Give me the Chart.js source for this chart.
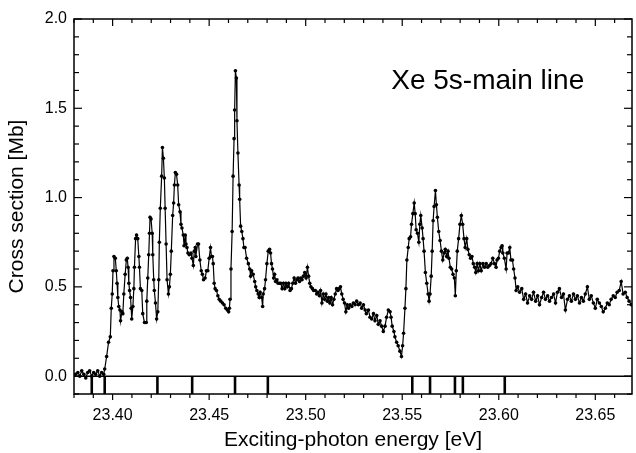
<!DOCTYPE html>
<html><head><meta charset="utf-8">
<script src="https://cdn.jsdelivr.net/npm/chart.js@4"></script>
<style>html,body{margin:0;padding:0;background:#fff}</style>
</head><body>
<canvas id="c" width="636" height="453" style="display:block;width:636px;height:453px"></canvas>
<script>
// Exciting-photon energy [eV]
const energy = [
23.3809,23.3820,23.3830,23.3840,23.3851,23.3861,23.3871,23.3881,23.3892,23.3902,23.3912,23.3923,23.3933,23.3943,23.3954,
23.3959,23.3969,23.3979,23.3988,23.3993,23.3998,23.4002,23.4007,23.4014,23.4019,23.4023,23.4027,23.4032,23.4038,23.4041,
23.4048,23.4053,23.4058,23.4065,23.4071,23.4076,23.4080,23.4084,23.4088,23.4093,23.4096,23.4099,23.4105,23.4110,23.4113,
23.4119,23.4124,23.4130,23.4136,23.4139,23.4144,23.4151,23.4156,23.4165,23.4174,23.4177,23.4182,23.4187,23.4191,23.4194,
23.4199,23.4205,23.4208,23.4213,23.4216,23.4222,23.4228,23.4234,23.4239,23.4242,23.4247,23.4254,23.4258,23.4263,23.4268,
23.4272,23.4277,23.4282,23.4289,23.4294,23.4299,23.4304,23.4311,23.4316,23.4320,23.4325,23.4331,23.4337,23.4342,23.4349,
23.4354,23.4359,23.4366,23.4370,23.4376,23.4380,23.4385,23.4390,23.4397,23.4406,23.4411,23.4418,23.4423,23.4428,23.4431,
23.4440,23.4445,23.4452,23.4459,23.4465,23.4471,23.4479,23.4486,23.4493,23.4500,23.4507,23.4512,23.4517,23.4521,23.4526,
23.4531,23.4538,23.4545,23.4552,23.4560,23.4569,23.4577,23.4586,23.4594,23.4601,23.4605,
23.4608,23.4613,23.4619,23.4624,23.4629,23.4632,23.4636,23.4641,23.4644,23.4649,23.4655,23.4658,23.4663,23.4669,23.4675,
23.4680,23.4686,23.4694,23.4703,23.4710,23.4715,23.4720,23.4728,23.4736,23.4741,23.4747,23.4754,23.4759,23.4764,23.4772,
23.4777,23.4780,23.4787,23.4792,23.4799,23.4806,23.4813,23.4818,23.4823,23.4828,23.4834,23.4839,23.4844,23.4851,23.4857,
23.4864,23.4871,23.4878,23.4885,23.4892,23.4898,23.4906,23.4912,23.4919,23.4926,23.4933,23.4940,23.4947,23.4954,23.4960,
23.4968,23.4974,23.4981,23.4988,23.4995,23.5002,23.5009,23.5015,23.5021,23.5027,23.5035,23.5041,23.5050,23.5057,23.5063,
23.5071,23.5077,23.5084,23.5091,23.5098,23.5105,23.5112,23.5119,23.5125,23.5132,23.5139,23.5146,23.5153,23.5160,23.5167,
23.5174,23.5180,23.5187,23.5194,23.5201,23.5208,23.5215,23.5222,23.5230,
23.5239,23.5247,23.5256,23.5264,23.5273,23.5282,23.5290,23.5299,23.5308,23.5314,23.5325,23.5333,23.5342,23.5351,23.5359,
23.5368,23.5376,23.5385,23.5393,23.5402,23.5411,23.5419,23.5428,23.5437,23.5442,23.5448,23.5457,23.5462,23.5471,23.5479,
23.5488,23.5496,23.5502,23.5507,23.5514,23.5519,23.5524,23.5531,23.5536,23.5543,23.5548,23.5555,23.5562,23.5567,23.5572,
23.5579,23.5586,23.5591,23.5596,23.5603,23.5608,23.5613,23.5620,23.5627,23.5634,23.5639,23.5644,23.5650,23.5655,23.5660,
23.5665,23.5672,23.5677,23.5682,23.5689,23.5696,23.5703,23.5710,23.5717,23.5723,23.5730,23.5737,23.5742,23.5749,23.5756,
23.5763,23.5770,23.5775,23.5780,23.5785,23.5792,23.5799,23.5806,23.5813,23.5820,23.5826,23.5834,23.5840,23.5847,23.5854,
23.5861,23.5868,23.5875,23.5881,23.5888,23.5895,23.5902,23.5909,23.5918,23.5926,23.5935,23.5943,
23.5952,23.5960,23.5969,23.5978,23.5986,23.5991,23.5998,23.6005,23.6012,23.6017,23.6021,23.6029,23.6038,23.6043,23.6050,
23.6057,23.6063,23.6071,23.6077,23.6084,23.6090,
23.6098,23.6108,23.6119,23.6129,23.6139,23.6149,23.6160,23.6170,23.6180,23.6191,23.6201,23.6211,23.6222,23.6232,23.6242,
23.6253,23.6263,23.6273,23.6284,23.6294,23.6304,23.6314,23.6325,23.6335,23.6345,23.6356,23.6366,23.6376,23.6387,23.6397,
23.6407,23.6418,23.6428,23.6438,23.6448,23.6459,23.6469,23.6479,23.6490,23.6500,23.6510,23.6521,23.6531,23.6541,23.6552,
23.6562,23.6572,23.6582,23.6593,23.6603,23.6613,23.6624,23.6634,23.6644,23.6655,23.6665,23.6675,23.6686
];
// Cross section [Mb]
const crossSection = [
0.01,0.02,0.00,0.03,0.01,-0.01,0.02,0.03,0.00,0.02,0.01,0.03,0.00,0.02,0.01,
0.04,0.11,0.19,0.22,0.38,0.46,0.59,0.67,0.66,0.59,0.52,0.44,0.39,0.37,0.31,
0.36,0.35,0.46,0.57,0.65,0.66,0.61,0.52,0.48,0.44,0.38,0.32,0.39,0.49,0.61,
0.77,0.79,0.77,0.67,0.61,0.49,0.48,0.35,0.30,0.30,0.42,0.55,0.68,0.80,0.89,
0.88,0.80,0.68,0.54,0.48,0.41,0.32,0.36,0.54,0.75,0.94,1.12,1.28,1.22,1.11,
0.94,0.74,0.54,0.46,0.50,0.57,0.70,0.90,0.97,1.07,1.14,1.13,1.07,0.96,0.92,
0.85,0.83,0.79,0.73,0.79,0.74,0.72,0.69,0.68,0.69,0.66,0.62,0.70,0.72,0.67,
0.74,0.74,0.65,0.59,0.57,0.54,0.55,0.59,0.59,0.66,0.72,0.67,0.67,0.63,0.52,
0.49,0.48,0.45,0.43,0.42,0.41,0.40,0.38,0.37,0.36,0.38,
0.43,0.60,0.81,1.12,1.33,1.49,1.71,1.67,1.43,1.25,1.07,0.99,0.84,0.81,0.77,
0.72,0.72,0.66,0.63,0.60,0.56,0.59,0.57,0.53,0.50,0.48,0.46,0.44,0.47,0.44,
0.39,0.46,0.49,0.54,0.63,0.70,0.71,0.69,0.63,0.60,0.55,0.57,0.53,0.54,0.52,
0.52,0.52,0.49,0.52,0.49,0.52,0.50,0.52,0.48,0.49,0.52,0.55,0.52,0.54,0.55,
0.53,0.55,0.54,0.56,0.58,0.55,0.61,0.56,0.52,0.50,0.49,0.48,0.48,0.46,0.47,
0.45,0.48,0.41,0.46,0.43,0.46,0.42,0.44,0.41,0.44,0.40,0.43,0.46,0.49,0.48,
0.49,0.50,0.46,0.43,0.41,0.36,0.40,0.38,0.40,
0.39,0.41,0.40,0.42,0.40,0.41,0.38,0.40,0.37,0.35,0.37,0.33,0.32,0.35,0.31,
0.34,0.29,0.31,0.28,0.25,0.28,0.33,0.37,0.36,0.33,0.28,0.25,0.22,0.19,0.17,
0.14,0.11,0.17,0.24,0.38,0.49,0.65,0.72,0.77,0.78,0.85,0.91,0.97,0.91,0.82,
0.80,0.75,0.85,0.90,0.83,0.77,0.70,0.58,0.52,0.46,0.42,0.46,0.56,0.70,0.87,
0.95,1.04,0.96,0.89,0.81,0.76,0.70,0.65,0.69,0.71,0.67,0.70,0.66,0.61,0.60,
0.57,0.55,0.45,0.59,0.70,0.77,0.85,0.90,0.85,0.77,0.72,0.77,0.71,0.68,0.66,
0.67,0.63,0.61,0.58,0.63,0.59,0.63,0.59,0.63,0.61,0.63,0.61,
0.62,0.63,0.66,0.63,0.61,0.65,0.66,0.70,0.72,0.73,0.69,0.66,0.60,0.69,0.69,
0.72,0.65,0.65,0.60,0.55,0.48,
0.50,0.47,0.49,0.43,0.46,0.41,0.45,0.43,0.47,0.42,0.45,0.40,0.44,0.47,0.43,
0.45,0.42,0.44,0.46,0.41,0.47,0.49,0.44,0.46,0.37,0.43,0.45,0.42,0.46,0.43,
0.45,0.41,0.44,0.42,0.46,0.50,0.43,0.45,0.41,0.38,0.43,0.41,0.39,0.36,0.38,
0.41,0.40,0.43,0.45,0.44,0.47,0.48,0.53,0.46,0.47,0.44,0.42,0.40
];
// Resonance positions marked below the zero line [eV]
const resonanceMarks = [23.3892, 23.3959, 23.4232, 23.4412, 23.4634, 23.4804, 23.5552, 23.5644, 23.5773, 23.5814, 23.6031];
const xTickValues = [23.40, 23.45, 23.50, 23.55, 23.60, 23.65];
const yTickValues = [0.0, 0.5, 1.0, 1.5, 2.0];
const annotationText = 'Xe 5s-main line';
const annotationAt = [23.5443, 1.65];

const FONT = '"Liberation Sans", Arial, Helvetica, sans-serif';

const decorPlugin = {
  id: 'decor',
  afterDatasetsDraw(chart) {
    const {ctx, chartArea: a, scales: {x, y}} = chart;
    const line = (x1, y1, x2, y2) => { ctx.beginPath(); ctx.moveTo(x1, y1); ctx.lineTo(x2, y2); ctx.stroke(); };
    ctx.save();
    ctx.strokeStyle = '#000';
    const y0 = y.getPixelForValue(0);
    ctx.lineWidth = 1.5;
    line(a.left, y0, a.right, y0);
    ctx.lineWidth = 2.6;
    resonanceMarks.forEach(e => { const px = x.getPixelForValue(e); line(px, y0, px, a.bottom); });
    ctx.lineWidth = 1.5;
    ctx.strokeRect(a.left, a.top, a.right - a.left, a.bottom - a.top);
    ctx.lineWidth = 1.2;
    for (let k = 0; ; k++) {
      const v = 23.38 + k * 0.01;
      if (v > x.max + 1e-9) break;
      const px = x.getPixelForValue(v);
      const major = Math.abs(v * 20 - Math.round(v * 20)) < 1e-6;
      line(px, a.bottom, px, a.bottom + (major ? 6 : 4));
      line(px, a.top, px, a.top + (major ? 7 : 4));
    }
    for (let k = 0; ; k++) {
      const v = -0.1 + k * 0.1;
      if (v > y.max + 1e-9) break;
      const py = y.getPixelForValue(v);
      const major = Math.abs(v * 2 - Math.round(v * 2)) < 1e-6;
      line(a.left, py, a.left + (major ? 8 : 5), py);
      line(a.right, py, a.right - (major ? 8 : 5), py);
    }
    ctx.fillStyle = '#000';
    ctx.font = '28px ' + FONT;
    ctx.textAlign = 'left';
    ctx.textBaseline = 'middle';
    ctx.fillText(annotationText, x.getPixelForValue(annotationAt[0]), y.getPixelForValue(annotationAt[1]));
    ctx.restore();
  }
};

new Chart(document.getElementById('c'), {
  type: 'line',
  data: {
    datasets: [{
      data: energy.map((e, i) => ({x: e, y: crossSection[i]})),
      borderColor: '#000',
      backgroundColor: '#000',
      borderWidth: 1.2,
      pointRadius: 1.8,
      pointStyle: 'circle',
      pointBorderWidth: 0,
      tension: 0,
      fill: false
    }]
  },
  options: {
    responsive: false,
    animation: false,
    devicePixelRatio: 1,
    layout: {padding: {top: 19, right: 1, left: 0, bottom: 0}},
    plugins: {legend: {display: false}, tooltip: {enabled: false}},
    scales: {
      x: {
        type: 'linear', min: 23.38, max: 23.669,
        grid: {display: false, drawTicks: false},
        border: {display: false},
        afterBuildTicks: s => { s.ticks = xTickValues.map(v => ({value: v})); },
        afterFit: s => { s.height = 59; },
        ticks: {autoSkip: false, maxRotation: 0, padding: 12, color: '#000',
          font: {family: FONT, size: 16}, callback: v => Number(v).toFixed(2)},
        title: {display: true, text: 'Exciting-photon energy [eV]', color: '#000',
          font: {family: FONT, size: 21}, padding: {top: 0, bottom: 0}}
      },
      y: {
        type: 'linear', min: -0.1, max: 2.0,
        grid: {display: false, drawTicks: false},
        border: {display: false},
        afterBuildTicks: s => { s.ticks = yTickValues.map(v => ({value: v})); },
        afterFit: s => { s.width = 74; },
        ticks: {padding: 7, color: '#000', font: {family: FONT, size: 16},
          callback: v => Number(v).toFixed(1)},
        title: {display: true, text: 'Cross section [Mb]', color: '#000',
          font: {family: FONT, size: 21}, padding: {top: 5, bottom: 0}}
      }
    }
  },
  plugins: [decorPlugin]
});
</script>
</body></html>
